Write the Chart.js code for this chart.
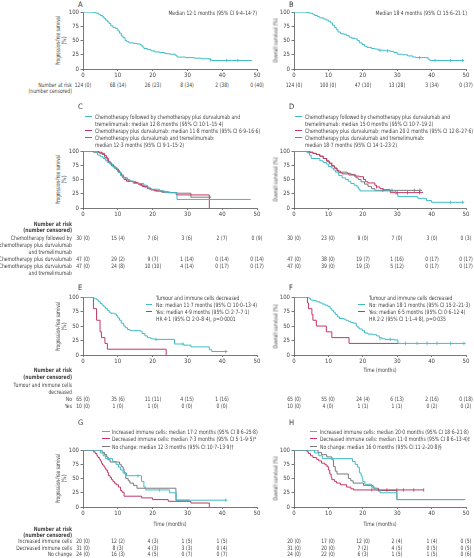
<!DOCTYPE html>
<html><head><meta charset="utf-8">
<script src="https://cdn.jsdelivr.net/npm/chart.js@4.4.1/dist/chart.umd.min.js"></script>
<style>
html,body{margin:0;padding:0;background:#fff}
body{width:474px;height:558px;position:relative;overflow:hidden;font-family:'Liberation Sans Narrow','DejaVu Sans Condensed',Roboto,sans-serif;color:#444}
.t{position:absolute;font-size:6px;line-height:7px;white-space:nowrap}
.b{font-weight:bold}
.L{font-size:7.5px;line-height:9px;color:#333}
.sw{position:absolute;height:0;border-top:1px solid}
.yt{position:absolute;font-size:6px;line-height:7px;white-space:nowrap;text-align:center;width:200px;height:7px}
canvas{position:absolute}
</style></head><body>
<script>
// ---------- DATA ----------
const riskTimes = [0,10,20,30,40,50];
// A: PFS overall
const aT = [0,3.0,3.8,4.5,5.0,5.6,6.0,6.5,7.0,7.5,8.0,8.6,9.4,10.0,10.5,11.0,11.5,12.1,12.6,13.2,14.5,15.5,16.5,17.0,17.5,18.5,19.5,20.5,22.0,23.5,25.0,26.5,27.0,29.5,32.0,34.0,36.5,37.0,48.5];
const aS = [100,99,98,96,94,92,89,86,83,80,76,73,71,67,63,58,55,50,48,46,45,44,42,39,36,34,32,30,29,27,26,24,21,20,19,18,16,15,15];
const aCensT = [36.6,41.3,44.5], aCensS = [16,15,15];
// B: OS overall
const bT = [0,3.5,4.5,5.5,6.0,6.8,7.5,8.5,9.3,10.0,10.6,11.2,11.8,12.3,12.8,13.5,14.5,15.2,16.0,16.8,17.8,18.4,19.0,19.8,20.5,21.2,22.5,23.5,24.5,26.5,28.0,29.0,30.0,31.5,33.0,34.5,35.5,39.0,39.5,49.5];
const bS = [100,99,98,96,94,92,90,88,86,84,81,77,73,69,65,62,61,59,56,54,53,50,46,43,40,38,36,35,33,32,31,29,26,25,23,21,20,17,15,15];
const bCensT = [25,27.2,36.5,41,45.5,49], bCensS = [33,32,20,15,15,15];
// C: PFS by regimen
const cCyT = [0,3.5,4.2,5.0,5.8,6.5,7.0,7.8,8.5,9.0,10.0,10.8,11.5,12.8,13.5,14.5,17.5,18.5,19.0,22.0,23.5,27.0,48.2];
const cCyS = [100,97,93,90,87,83,80,77,73,70,63,57,53,50,47,43,40,37,33,30,27,15,15];
const cMgT = [0,4.5,5.5,6.2,6.8,7.3,8.0,8.8,9.5,10.2,10.8,11.3,11.8,12.5,14.0,15.2,16.0,17.0,18.5,19.5,20.5,22.5,25.0,26.8,36.3,36.3];
const cMgS = [100,98,96,92,87,81,76,72,68,63,58,54,50,47,46,44,41,38,35,32,30,28,27,23,23,0];
const cGrT = [0,3.0,4.8,5.5,6.2,7.0,7.5,8.2,9.0,9.8,10.5,11.0,11.6,12.3,13.0,14.5,15.8,16.5,17.5,18.5,19.5,21.0,23.0,24.5,27.0,31.0,36.8];
const cGrS = [100,98,96,94,89,83,79,74,70,66,62,58,54,50,47,45,43,40,37,34,32,30,28,27,26,19,19];
// D: OS by regimen
const dCyT = [0,3.8,4.5,5.0,7.5,8.5,9.5,10.0,11.0,11.5,12.0,13.0,14.0,15.0,15.8,16.5,17.5,18.3,18.8,19.2,29.5,30.2,36.0,38.5,40.0,49.5];
const dCyS = [100,97,93,87,83,80,77,73,70,67,63,57,53,50,47,43,40,37,33,30,25,20,17,13,10,10];
const dMgT = [0,4.5,5.5,6.5,7.5,8.5,9.5,10.2,11.0,11.8,12.5,13.0,14.0,16.0,18.0,19.0,20.2,20.8,21.5,23.5,24.0,25.0,26.0,28.0,37.5];
const dMgS = [100,98,96,94,91,87,83,79,74,70,66,62,60,58,56,55,50,46,44,40,37,34,32,27,27];
const dGrT = [0,4.0,5.5,6.5,7.5,8.5,9.5,10.3,11.0,11.8,12.5,13.5,15.5,16.5,17.5,18.0,18.7,19.5,20.5,21.5,22.5,23.5,37.2];
const dGrS = [100,98,96,94,91,87,82,78,74,70,65,63,61,59,56,53,50,46,42,38,34,31,31];
const dCyCensT=[45.5,49], dCyCensS=[10,10];
const dMgCensT=[24,30,33,36.5], dMgCensS=[37,27,27,27];
const dGrCensT=[25.8,28.5,35,36.6], dGrCensS=[31,31,31,31];
// E: PFS by tumour and immune cells decreased
const eNoT = [0,3.0,3.5,4.0,4.5,5.0,5.5,6.0,6.5,7.0,7.5,8.0,9.0,9.6,10.0,10.5,11.0,11.7,12.2,12.8,13.5,16.5,17.0,17.8,18.5,19.5,20.5,26.3,29.0,31.0,36.3,37.0,41.5];
const eNoS = [100,98,97,95,92,89,86,83,80,77,74,72,71,68,64,60,55,50,47,44,42,41,37,33,30,28,27,19,17,14,9,6,6];
const eYesT = [0,3.0,3.9,4.9,5.3,6.3,7.0,23.9,23.9];
const eYesS = [100,80,60,40,30,20,10,10,0];
const eNoCensT=[21,28.7,41], eNoCensS=[27,19,6];
// F: OS by tumour and immune cells decreased
const fNoT = [0,4.3,4.8,5.5,6.5,7.5,8.2,9.0,9.8,10.5,11.0,11.5,12.0,12.6,13.2,14.5,15.0,15.8,16.5,17.2,18.1,18.6,19.0,19.8,20.5,21.5,23.0,24.0,24.8,25.5,26.5,29.0,30.2,49.9];
const fNoS = [100,98,95,94,92,90,88,86,84,80,77,74,70,66,63,62,60,58,56,55,50,47,45,42,38,36,35,33,30,28,27,26,20,20];
const fYesT = [0,3.9,4.2,5.2,5.5,6.5,9.4,11.0,16.0,30.5];
const fYesS = [100,90,80,70,60,50,40,30,20,20];
const fNoCensT=[25,28,32.4,35.8,38.7,41.6,45.5,49.4], fNoCensS=[28,27,20,20,20,20,20,20];
// G: PFS by immune cell change
const gIncT = [0,5.0,5.8,6.5,8.5,9.5,10.2,10.8,11.5,12.5,16.8,17.5,18.0,24.9,26.8,41.5];
const gIncS = [100,95,90,85,80,75,70,65,60,55,45,35,30,25,12,12];
const gDecT = [0,3.0,3.5,4.0,4.3,4.7,5.0,5.3,5.6,6.0,6.3,6.6,7.0,7.3,7.8,8.2,8.6,9.0,9.5,10.2,10.8,11.2,11.8,16.8,20.0,24.5,31.0,36.3,36.3];
const gDecS = [100,97,94,90,87,84,81,77,74,71,68,65,61,55,52,48,45,42,39,35,29,26,19,16,13,10,7,7,0];
const gNcT = [0,5.5,6.2,6.8,7.2,7.8,10.5,11.0,11.5,11.8,12.0,12.3,13.0,13.5,14.5,15.5,26.7,30.6];
const gNcS = [100,96,92,88,83,79,75,71,67,62,58,50,46,42,38,33,12,12];
const gIncCensT=[7.2,15.8,22,41], gIncCensS=[85,55,30,12];
// H: OS by immune cell change
const hIncT = [0,6.0,7.2,8.3,17.0,17.8,18.5,19.0,19.5,19.8,20.0,20.6,22.5,23.5,25.0,29.9,49.8];
const hIncS = [100,95,90,85,80,75,70,60,55,50,45,40,35,30,25,13,13];
const hDecT = [0,3.8,4.2,4.8,5.5,6.5,7.2,8.0,9.0,9.6,10.0,10.4,10.8,11.0,11.8,12.4,13.5,15.3,16.5,17.3,37.7];
const hDecS = [100,97,94,90,87,84,81,77,74,71,65,58,52,48,45,42,39,35,32,30,30];
const hNcT = [0,7.0,8.0,9.5,11.0,11.5,12.0,12.5,15.8,16.5,17.2,20.2,23.0,24.5,29.9,49.5];
const hNcS = [100,96,92,88,83,71,63,58,50,46,42,38,33,29,13,13];
const hDecCensT=[22.6,24.6,27,29.9,31.8,34.8,37.7], hDecCensS=[30,30,30,30,30,30,30];
// Number at risk (number censored)
const aRiskN=[124,68,26,8,2,0], aRiskC=[0,14,23,34,38,40];
const bRiskN=[124,100,47,13,3,0], bRiskC=[0,0,10,28,34,37];
const cRisk1N=[30,15,7,3,2,0], cRisk1C=[0,4,6,6,7,9];
const cRisk2N=[47,29,9,1,0,0], cRisk2C=[0,2,7,14,14,14];
const cRisk3N=[47,24,10,4,0,0], cRisk3C=[0,8,10,14,17,17];
const dRisk1N=[30,23,9,7,3,0], dRisk1C=[0,0,0,0,0,3];
const dRisk2N=[47,38,19,1,0,0], dRisk2C=[0,0,7,16,17,17];
const dRisk3N=[47,39,19,5,0,0], dRisk3C=[0,0,3,12,17,17];
const eRiskNoN=[65,35,11,4,1], eRiskNoC=[0,6,11,15,16];
const eRiskYesN=[10,1,1,0,0], eRiskYesC=[0,0,0,0,0];
const fRiskNoN=[65,55,24,6,2,0], fRiskNoC=[0,0,4,13,16,18];
const fRiskYesN=[10,4,1,1,0,0], fRiskYesC=[0,0,1,1,2,2];
const gRiskIncN=[20,12,4,1,1], gRiskIncC=[0,2,3,5,5];
const gRiskDecN=[31,8,4,3,0], gRiskDecC=[0,3,3,3,4];
const gRiskNcN=[24,16,4,0,0], gRiskNcC=[0,3,5,7,7];
const hRiskIncN=[20,17,12,2,1,0], hRiskIncC=[0,0,0,4,4,5];
const hRiskDecN=[31,20,7,4,0,0], hRiskDecC=[0,0,2,5,5,5];
const hRiskNcN=[24,22,6,1,1,0], hRiskNcC=[0,0,3,5,5,6];
const xTicks=[0,10,20,30,40,50], yTicks=[0,25,50,75,100];

// ---------- STYLE ----------
const FONT = "'Liberation Sans Narrow','DejaVu Sans Condensed',Roboto,sans-serif";
const CY='#3fbcc8', MG='#c43763', GR='#7a7a7a', AX='#555', TX='#444';
const SX = 0.84;
Chart.defaults.font.family = FONT; Chart.defaults.font.size = 6; Chart.defaults.color = TX;

function T(x,y,s,al,cls){
  const d=document.createElement('div'); d.className='t'+(cls?' '+cls:''); d.textContent=s;
  const big = cls&&cls.indexOf('L')>=0;
  if(al==='r'){d.style.left=(x-400)+'px';d.style.width='400px';d.style.textAlign='right';d.style.transformOrigin='right center';}
  else if(al==='c'){d.style.left=(x-100)+'px';d.style.width='200px';d.style.textAlign='center';d.style.transformOrigin='center center';}
  else {d.style.left=x+'px';d.style.transformOrigin='left center';}
  if(!big) d.style.transform='scaleX('+SX+')';
  d.style.top=(y-(big?4.5:3.5))+'px'; document.body.appendChild(d); return d;
}
function YT(cx,cy,s,k){
  const d=document.createElement('div'); d.className='yt'; d.textContent=s;
  d.style.left=(cx-100)+'px'; d.style.top=(cy-3.5)+'px';
  d.style.transform='rotate(-90deg) scaleX('+k+')'; document.body.appendChild(d);
}
function SW(x,y,w,col){const d=document.createElement('div');d.className='sw';d.style.left=x+'px';d.style.top=(y-0.5)+'px';d.style.width=w+'px';d.style.borderColor=col;document.body.appendChild(d);}
function km(t,s,col){return {type:'line',data:t.map((v,i)=>({x:v,y:s[i]})),borderColor:col,borderWidth:1,pointRadius:0,stepped:true,fill:false,order:2};}
function cens(t,s,col){return {type:'scatter',data:t.map((v,i)=>({x:v,y:s[i]})),borderColor:col,backgroundColor:col,pointStyle:'line',rotation:90,pointRadius:1.7,borderWidth:0.8,showLine:false,order:1};}

function panel(box, datasets, yTitle, xTitle){
  const wy = 16, padT=5, padR=12, hx = 12;
  const W=(box.x1-box.x0)+wy+padR, H=(box.y1-box.y0)+padT+hx;
  const c=document.createElement('canvas'); c.width=W; c.height=H;
  const L=box.x0-wy, Tp=box.y0-padT;
  c.style.left=L+'px'; c.style.top=Tp+'px'; c.style.width=W+'px'; c.style.height=H+'px';
  document.body.appendChild(c);
  const ch=new Chart(c,{type:'line',data:{datasets},options:{
    responsive:false,animation:false,devicePixelRatio:1,events:[],
    layout:{padding:{left:0,top:padT,right:padR,bottom:0}},
    plugins:{legend:{display:false},tooltip:{enabled:false}},
    scales:{
      x:{type:'linear',min:0,max:50,afterBuildTicks:s=>{s.ticks=xTicks.map(v=>({value:v}));},
         ticks:{font:{size:6,family:FONT},color:TX,padding:0.5,maxRotation:0,autoSkip:false},
         grid:{display:true,drawOnChartArea:false,drawTicks:true,tickLength:2,color:AX,lineWidth:0.8},
         border:{display:true,color:AX,width:0.8},
         afterFit:s=>{s.height=hx;}},
      y:{type:'linear',min:0,max:100,afterBuildTicks:s=>{s.ticks=yTicks.map(v=>({value:v}));},
         ticks:{font:{size:6,family:FONT},color:TX,padding:1.5,autoSkip:false},
         grid:{display:true,drawOnChartArea:false,drawTicks:true,tickLength:2.5,color:AX,lineWidth:0.8},
         border:{display:true,color:AX,width:0.8},
         afterFit:s=>{s.width=wy;}}
    }}});
  const cy=(box.y0+box.y1)/2;
  if(Array.isArray(yTitle)){ YT(box.x0-26,cy,yTitle[0],0.74); YT(box.x0-20,cy,yTitle[1],0.84); }
  else YT(box.x0-19,cy,yTitle,0.84);
  const px=v=>L+ch.scales.x.getPixelForValue(v);
  if(xTitle) T(px(25),box.y1+box.xt,xTitle,'c');
  return {ch,L,px};
}
function riskRow(p,y,N,C){N.forEach((n,i)=>T(p.px(riskTimes[i]),y,n+' ('+C[i]+')','c'));}

const PFS=['Progression-free survival','(%)'], OS='Overall survival (%)', TM='Time (months)';
const XL=83, XR=257, XL2=294, XR2=466;

// ---------- A ----------
T(78,4,'A','l','L');
const pA=panel({x0:XL,x1:XR,y0:12,y1:69},[km(aT,aS,CY),cens(aCensT,aCensS,CY)],PFS);
T(257,12,'Median 12·1 months (95% CI 9·4–14·7)','r');
T(72,84,'Number at risk','r'); T(72,90.5,'(number censored)','r');
riskRow(pA,84,aRiskN,aRiskC);
// ---------- B ----------
T(289,4,'B','l','L');
const pB=panel({x0:XL2,x1:XR2,y0:12,y1:69},[km(bT,bS,CY),cens(bCensT,bCensS,CY)],OS);
T(467,12,'Median 18·4 months (95% CI 15·6–21·1)','r');
riskRow(pB,84,bRiskN,bRiskC);
// ---------- C ----------
T(78,106,'C','l','L');
SW(85,116,7,CY); SW(85,130,7,MG); SW(85,137,7,GR);
T(95,116,'Chemotherapy followed by chemotherapy plus durvalumab and');
T(95,123,'tremelimumab: median 12·8 months (95% CI 10·1–15·4)');
T(95,130,'Chemotherapy plus durvalumab: median 11·8 months (95% CI 6·9–16·6)');
T(95,137,'Chemotherapy plus durvalumab and tremelimumab:');
T(95,144,'median 12·3 months (95% CI 9·1–15·2)');
const pC=panel({x0:XL,x1:XR,y0:151,y1:208},[km(cCyT,cCyS,CY),km(cMgT,cMgS,MG),km(cGrT,cGrS,GR)],PFS);
T(72,223,'Number at risk','r','b'); T(72,229.5,'(number censored)','r','b');
T(72,237,'Chemotherapy followed by','r'); T(72,244,'chemotherapy plus durvalumab','r'); T(72,251,'and tremelimumab','r');
T(72,258,'Chemotherapy plus durvalumab','r');
T(72,265,'Chemotherapy plus durvalumab','r'); T(72,272,'and tremelimumab','r');
riskRow(pC,237,cRisk1N,cRisk1C); riskRow(pC,258,cRisk2N,cRisk2C); riskRow(pC,265,cRisk3N,cRisk3C);
// ---------- D ----------
T(289,106,'D','l','L');
SW(295,116,7,CY); SW(295,130,7,MG); SW(295,137,7,GR);
T(305,116,'Chemotherapy followed by chemotherapy plus durvalumab and');
T(305,123,'tremelimumab: median 15·0 months (95% CI 10·7–19·2)');
T(305,130,'Chemotherapy plus durvalumab: median 20·2 months (95% CI 12·8–27·6)');
T(305,137,'Chemotherapy plus durvalumab and tremelimumab:');
T(305,144,'median 18·7 months (95% CI 14·1–23·2)');
const pD=panel({x0:XL2,x1:XR2,y0:151,y1:208},[km(dCyT,dCyS,CY),km(dMgT,dMgS,MG),km(dGrT,dGrS,GR),cens(dCyCensT,dCyCensS,CY),cens(dMgCensT,dMgCensS,MG),cens(dGrCensT,dGrCensS,GR)],OS);
riskRow(pD,237,dRisk1N,dRisk1C); riskRow(pD,258,dRisk2N,dRisk2C); riskRow(pD,265,dRisk3N,dRisk3C);
// ---------- E ----------
T(78,287,'E','l','L');
const pE=panel({x0:XL,x1:XR,y0:297,y1:355},[km(eNoT,eNoS,CY),km(eYesT,eYesS,MG),cens(eNoCensT,eNoCensS,CY)],PFS);
T(156,297,'Tumour and immune cells decreased');
SW(146,304,6,CY); SW(146,311,6,MG);
T(156,304,'No: median 11·7 months (95% CI 10·0–13·4)');
T(156,311,'Yes: median 4·9 months (95% CI 2·7–7·1)');
T(156,318,'HR 4·1 (95% CI 2·0–8·4), p=0·0001');
T(72,369,'Number at risk','r','b'); T(72,376,'(number censored)','r','b');
T(72,384,'Tumour and immune cells','r'); T(72,391,'decreased','r');
T(72,398,'No','r'); T(72,405,'Yes','r');
riskRow(pE,398,eRiskNoN,eRiskNoC); riskRow(pE,405,eRiskYesN,eRiskYesC);
// ---------- F ----------
T(289,287,'F','l','L');
const pF=panel({x0:XL2,x1:XR2,y0:297,y1:355,xt:14},[km(fNoT,fNoS,CY),km(fYesT,fYesS,MG),cens(fNoCensT,fNoCensS,CY)],OS,TM);
T(369,297,'Tumour and immune cells decreased');
SW(358,304,7,CY); SW(358,311,7,MG);
T(369,304,'No: median 18·1 months (95% CI 15·2–21·3)');
T(369,311,'Yes: median 6·5 months (95% CI 0·6–12·4)');
T(369,318,'HR 2·2 (95% CI 1·1–4·8), p=0·035');
riskRow(pF,398,fRiskNoN,fRiskNoC); riskRow(pF,405,fRiskYesN,fRiskYesC);
// ---------- G ----------
T(78,422,'G','l','L');
SW(102,431,8,CY); SW(102,438,8,MG); SW(102,446,8,GR);
T(112,431,'Increased immune cells: median 17·2 months (95% CI 8·6–25·8)');
T(112,438,'Decreased immune cells: median 7·3 months (95% CI 5·1–9·5)*');
T(112,446,'No change: median 12·3 months (95% CI 10·7–13·9)†');
const pG=panel({x0:XL,x1:XR,y0:450,y1:507,xt:16},[km(gIncT,gIncS,CY),km(gDecT,gDecS,MG),km(gNcT,gNcS,GR),cens(gIncCensT,gIncCensS,CY)],PFS,TM);
T(72,528,'Number at risk','r','b'); T(72,534.5,'(number censored)','r','b');
T(72,540.5,'Increased immune cells','r'); T(72,547,'Decreased immune cells','r'); T(72,553.5,'No change','r');
riskRow(pG,540.5,gRiskIncN,gRiskIncC); riskRow(pG,547,gRiskDecN,gRiskDecC); riskRow(pG,553.5,gRiskNcN,gRiskNcC);
// ---------- H ----------
T(289,422,'H','l','L');
SW(310,431,7,CY); SW(310,438,7,MG); SW(310,446,7,GR);
T(320,431,'Increased immune cells: median 20·0 months (95% CI 18·6–21·8)');
T(320,438,'Decreased immune cells: median 11·0 months (95% CI 8·6–13·4)‡');
T(320,446,'No change: median 16·0 months (95% CI 11·2–20·8)§');
const pH=panel({x0:XL2,x1:XR2,y0:450,y1:507,xt:16},[km(hIncT,hIncS,CY),km(hDecT,hDecS,MG),km(hNcT,hNcS,GR),cens(hDecCensT,hDecCensS,MG)],OS,TM);
riskRow(pH,540.5,hRiskIncN,hRiskIncC); riskRow(pH,547,hRiskDecN,hRiskDecC); riskRow(pH,553.5,hRiskNcN,hRiskNcC);
</script>
</body></html>
